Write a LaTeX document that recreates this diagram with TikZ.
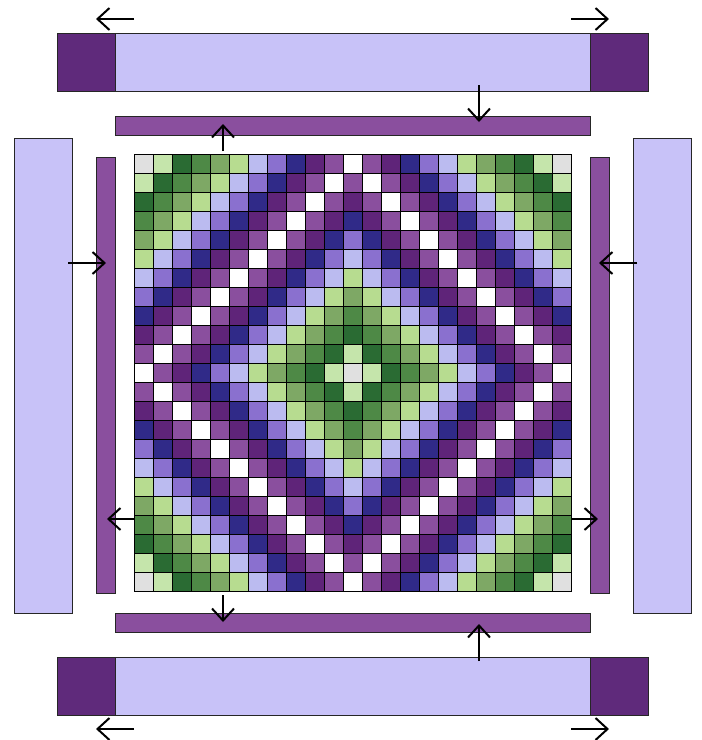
\documentclass[tikz,border=0pt]{standalone}
\usetikzlibrary{arrows.meta}

\definecolor{tone0}{HTML}{E0E0E0}
\definecolor{tone1}{HTML}{C5E5AB}
\definecolor{tone2}{HTML}{2A6B33}
\definecolor{tone3}{HTML}{4E8946}
\definecolor{tone4}{HTML}{7EA865}
\definecolor{tone5}{HTML}{B7DC90}
\definecolor{tone6}{HTML}{BBBBF0}
\definecolor{tone7}{HTML}{8A70CF}
\definecolor{tone8}{HTML}{302A88}
\definecolor{tone9}{HTML}{5F2479}
\definecolor{tone10}{HTML}{8A4F9E}
\definecolor{tone11}{HTML}{FFFFFF}
\definecolor{barlight}{HTML}{C8C2F8}
\definecolor{bardark}{HTML}{5F2A7B}
\definecolor{barmid}{HTML}{8A4F9E}

\begin{document}
\begin{tikzpicture}[
    x=1pt, y=-1pt,
    cell/.style={draw=black, line width=0.8pt},
    bar/.style={rectangle, draw=black!85, line width=0.9pt, inner sep=0pt, outer sep=0pt},
    widebar/.style={bar, fill=barlight},
    capbar/.style={bar, fill=bardark, minimum width=58pt, minimum height=58pt},
    thinbar/.style={bar, fill=barmid},
    arrow/.style={-{Straight Barb[length=12pt,width=22pt]}, line width=2pt}
]
    \useasboundingbox (0,0) rectangle (702,740);

    % pattern grid
    \foreach \i in {0,...,22} {
        \foreach \j in {0,...,22} {
            \pgfmathtruncatemacro\ra{min(\i,22-\i)}
            \pgfmathtruncatemacro\rb{min(\j,22-\j)}
            \pgfmathtruncatemacro\rk{min(\ra+\rb,22-\ra-\rb)}
            \draw[cell, fill=tone\rk] ({134+19*\j},{154+19*\i}) rectangle ++(19,19);
        }
    }

    % outer bars
    \node[widebar, minimum width=591pt, minimum height=58pt] (topbar) at (352.5,62) {};
    \node[capbar] (topleftcap) at (86,62) {};
    \node[capbar] (toprightcap) at (619,62) {};
    \node[widebar, minimum width=591pt, minimum height=58pt] (bottombar) at (352.5,686) {};
    \node[capbar] (bottomleftcap) at (86,686) {};
    \node[capbar] (bottomrightcap) at (619,686) {};
    \node[widebar, minimum width=58pt, minimum height=475pt] (leftbar) at (43,375.5) {};
    \node[widebar, minimum width=58pt, minimum height=475pt] (rightbar) at (662,375.5) {};

    % inner bars
    \node[thinbar, minimum width=475pt, minimum height=19pt] (topstrip) at (352.5,125.5) {};
    \node[thinbar, minimum width=475pt, minimum height=19pt] (bottomstrip) at (352.5,622.5) {};
    \node[thinbar, minimum width=19pt, minimum height=436pt] (leftstrip) at (105.5,375.5) {};
    \node[thinbar, minimum width=19pt, minimum height=436pt] (rightstrip) at (599.5,375.5) {};

    % arrow ends
    \coordinate (a1) at (134,19);  \coordinate (b1) at (96,19);
    \coordinate (a2) at (571,19);  \coordinate (b2) at (609,19);
    \coordinate (a3) at (479,85);  \coordinate (b3) at (479,122);
    \coordinate (a4) at (223,151); \coordinate (b4) at (223,124);
    \coordinate (a5) at (68,263);  \coordinate (b5) at (106,263);
    \coordinate (a6) at (637,263); \coordinate (b6) at (599,263);
    \coordinate (a7) at (134,519); \coordinate (b7) at (107,519);
    \coordinate (a8) at (571,519); \coordinate (b8) at (598,519);
    \coordinate (a9) at (223,595); \coordinate (b9) at (223,622);
    \coordinate (a10) at (479,661); \coordinate (b10) at (479,624);
    \coordinate (a11) at (134,729); \coordinate (b11) at (96,729);
    \coordinate (a12) at (571,729); \coordinate (b12) at (609,729);

    \foreach \n in {1,...,12}
        \draw[arrow] (a\n) -- (b\n);
\end{tikzpicture}
\end{document}
